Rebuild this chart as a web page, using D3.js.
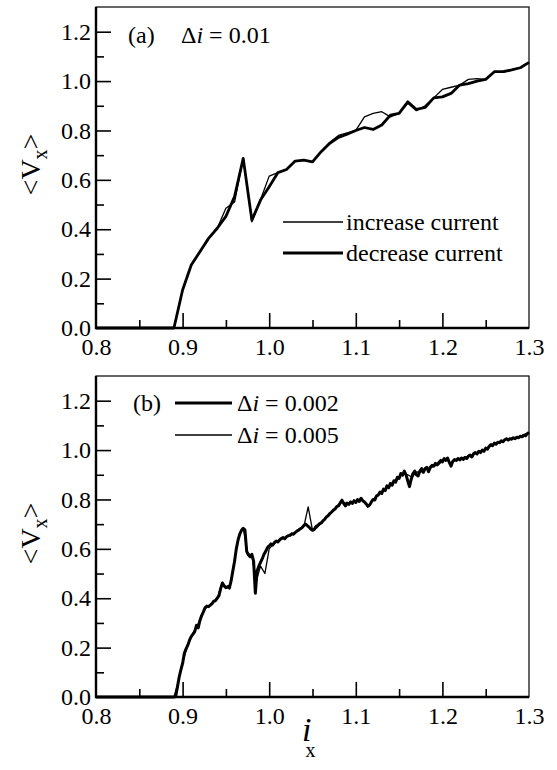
<!DOCTYPE html>
<html>
<head>
<meta charset="utf-8">
<script src="https://cdn.jsdelivr.net/npm/d3@7"></script>
<style>
  body { margin: 0; background: #fff; }
  svg text { font-family: "Liberation Serif", "Tinos", "DejaVu Serif", serif; fill: #000; }
</style>
</head>
<body>
<svg id="chart" width="557" height="770"></svg>
<script>
// ---- panel (a): delta i = 0.01, values read at 0.80, 0.81, ... 1.30
const aStart = 0.80, aStep = 0.01;
const aIncrease = [
  0, 0, 0, 0, 0, 0, 0, 0, 0, 0,
  0.154, 0.255, 0.309, 0.363, 0.404, 0.485, 0.510, 0.687, 0.430, 0.520,
  0.615, 0.629, 0.642, 0.676, 0.680, 0.673, 0.716, 0.752, 0.780, 0.790,
  0.800, 0.855, 0.869, 0.876, 0.855, 0.869, 0.910, 0.880, 0.900, 0.932,
  0.966, 0.975, 0.984, 1.007, 1.010, 1.007, 1.038, 1.035, 1.045, 1.054, 1.076
];
const aDecrease = [
  0, 0, 0, 0, 0, 0, 0, 0, 0, 0,
  0.154, 0.255, 0.309, 0.363, 0.404, 0.452, 0.532, 0.687, 0.437, 0.518,
  0.572, 0.629, 0.642, 0.676, 0.680, 0.673, 0.714, 0.748, 0.772, 0.785,
  0.800, 0.812, 0.804, 0.822, 0.862, 0.869, 0.916, 0.885, 0.893, 0.932,
  0.936, 0.950, 0.984, 0.990, 1.000, 1.007, 1.038, 1.038, 1.045, 1.054, 1.076
];

// ---- panel (b): two step sizes, both zero from 0.80 up to the start of each list
const zeroFrom = 0.80;
const bStart002 = 0.886, bStep002 = 0.002;
const b002 = [
  0, 0, 0, 0.002, 0.04, 0.08, 0.11, 0.136, 0.177, 0.195,
  0.21, 0.23, 0.245, 0.255, 0.265, 0.29, 0.28, 0.31, 0.33, 0.345,
  0.362, 0.368, 0.366, 0.372, 0.378, 0.388, 0.39, 0.40, 0.41, 0.44,
  0.462, 0.45, 0.443, 0.446, 0.441, 0.47, 0.51, 0.55, 0.60, 0.635,
  0.66, 0.675, 0.683, 0.677, 0.59, 0.575, 0.568, 0.578, 0.55, 0.42,
  0.51, 0.53, 0.545, 0.56, 0.578, 0.59, 0.605, 0.612, 0.62, 0.615,
  0.625, 0.632, 0.628, 0.636, 0.642, 0.646, 0.641, 0.649, 0.653, 0.655,
  0.661, 0.659, 0.666, 0.672, 0.676, 0.681, 0.686, 0.695, 0.70, 0.694,
  0.688, 0.68, 0.675, 0.679, 0.69, 0.694, 0.701, 0.705, 0.713, 0.719,
  0.729, 0.734, 0.743, 0.749, 0.756, 0.761, 0.771, 0.774, 0.786, 0.797,
  0.784, 0.774, 0.785, 0.78, 0.79, 0.784, 0.795, 0.788, 0.80, 0.792,
  0.805, 0.795, 0.79, 0.782, 0.772, 0.778, 0.79, 0.80, 0.798, 0.815,
  0.818, 0.83, 0.824, 0.842, 0.836, 0.855, 0.848, 0.865, 0.858, 0.876,
  0.87, 0.89, 0.885, 0.905, 0.898, 0.915, 0.90, 0.875, 0.852, 0.882,
  0.905, 0.915, 0.90, 0.895, 0.915, 0.925, 0.91, 0.925, 0.93, 0.912,
  0.93, 0.938, 0.935, 0.946, 0.94, 0.95, 0.958, 0.952, 0.966, 0.958,
  0.968, 0.95, 0.935, 0.955, 0.962, 0.958, 0.966, 0.96, 0.968, 0.962,
  0.97, 0.966, 0.975, 0.98, 0.972, 0.985, 0.99, 0.984, 0.995, 0.99,
  1.0, 0.995, 1.008, 1.004, 1.015, 1.022, 1.018, 1.028, 1.024, 1.032,
  1.03, 1.038, 1.034, 1.042, 1.046, 1.04, 1.046, 1.044, 1.05, 1.046,
  1.052, 1.05, 1.056, 1.054, 1.06, 1.058, 1.066, 1.072
];
const bStart005 = 0.885, bStep005 = 0.005;
const b005 = [
  0, 0, 0.06, 0.14, 0.20, 0.245, 0.278, 0.31, 0.355, 0.368,
  0.385, 0.40, 0.455, 0.445, 0.455, 0.555, 0.65, 0.685, 0.585, 0.57,
  0.47, 0.53, 0.50, 0.60, 0.62, 0.63, 0.64, 0.65, 0.655, 0.665,
  0.678, 0.69, 0.77, 0.675, 0.685, 0.705, 0.725, 0.74, 0.76, 0.78,
  0.79, 0.782, 0.786, 0.79, 0.798, 0.792, 0.772, 0.80, 0.818, 0.832,
  0.845, 0.858, 0.87, 0.892, 0.905, 0.90, 0.89, 0.912, 0.91, 0.922,
  0.925, 0.935, 0.94, 0.955, 0.962, 0.945, 0.96, 0.964, 0.97, 0.975,
  0.98, 0.99, 0.996, 1.005, 1.015, 1.025, 1.03, 1.036, 1.044, 1.046,
  1.05, 1.055, 1.064, 1.072
];

const xMajor = [0.8, 0.9, 1.0, 1.1, 1.2, 1.3];
const xMinor = [0.85, 0.95, 1.05, 1.15, 1.25];
const yMajor = [0.0, 0.2, 0.4, 0.6, 0.8, 1.0, 1.2];
const yMinor = [0.1, 0.3, 0.5, 0.7, 0.9, 1.1];

const serif = '"Liberation Serif", "Tinos", "DejaVu Serif", serif';
const fs = 24;

function toPoints(start, step, vals, lead) {
  const pts = vals.map((v, i) => ({ x: start + i * step, y: v }));
  if (lead !== undefined) pts.unshift({ x: lead, y: 0 });
  return pts;
}

const svg = d3.select("#chart").attr("font-family", serif);
const left = 96, right = 529;
const panels = [
  { top: 7, bottom: 328 },
  { top: 376, bottom: 697 }
];

const x = d3.scaleLinear().domain([0.8, 1.3]).range([left, right]);

function drawPanel(p, series) {
  const y = d3.scaleLinear().domain([0, 1.3]).range([p.bottom, p.top]);
  const g = svg.append("g");

  // inward ticks, major + minor
  const yAx = g.append("g").attr("transform", `translate(${left},0)`)
    .call(d3.axisLeft(y).tickValues(yMajor).tickSizeInner(-15).tickSizeOuter(0)
      .tickPadding(20).tickFormat(d3.format(".1f")));
  const yMin = g.append("g").attr("transform", `translate(${left},0)`)
    .call(d3.axisLeft(y).tickValues(yMinor).tickSizeInner(-8).tickSizeOuter(0).tickFormat(""));
  const xAx = g.append("g").attr("transform", `translate(0,${p.bottom})`)
    .call(d3.axisBottom(x).tickValues(xMajor).tickSizeInner(-15).tickSizeOuter(0)
      .tickPadding(24).tickFormat(d3.format(".1f")));
  const xMin = g.append("g").attr("transform", `translate(0,${p.bottom})`)
    .call(d3.axisBottom(x).tickValues(xMinor).tickSizeInner(-8).tickSizeOuter(0).tickFormat(""));

  [yAx, yMin, xAx, xMin].forEach(a => {
    a.attr("font-family", serif).attr("font-size", fs);
    a.select(".domain").remove();
    a.selectAll(".tick line").attr("stroke", "#000").attr("stroke-width", 1.6);
  });
  xAx.selectAll(".tick text").attr("y", 9).attr("dy", "0.75em");
  yAx.selectAll(".tick text").attr("x", -5);
  // no tick drawn on the corners
  xAx.selectAll(".tick line").filter(d => d === 0.8 || d === 1.3).remove();
  yAx.selectAll(".tick line").filter(d => d === 0).remove();

  // frame: heavier left/bottom
  g.append("rect").attr("x", left).attr("y", p.top)
    .attr("width", right - left).attr("height", p.bottom - p.top)
    .attr("fill", "none").attr("stroke", "#000").attr("stroke-width", 1.2);
  g.append("path")
    .attr("d", `M${left},${p.top}V${p.bottom}H${right}`)
    .attr("fill", "none").attr("stroke", "#000").attr("stroke-width", 2.4);

  const line = d3.line().x(d => x(d.x)).y(d => y(d.y));
  series.forEach(s => {
    g.append("path").datum(s.pts)
      .attr("d", line)
      .attr("fill", "none")
      .attr("stroke", "#000")
      .attr("stroke-width", s.w)
      .attr("stroke-linejoin", "round");
  });

  // y title  <V_x>
  const cy = (p.top + p.bottom) / 2 - 3;
  const t = g.append("text")
    .attr("transform", `translate(40,${cy}) rotate(-90)`)
    .attr("text-anchor", "middle")
    .attr("font-size", 28);
  t.append("tspan").text("<V");
  t.append("tspan").attr("font-size", 20).attr("dy", 7).text("x");
  t.append("tspan").attr("dy", -7).text(">");
  return y;
}

// panel (a)
drawPanel(panels[0], [
  { pts: toPoints(aStart, aStep, aIncrease), w: 1.3 },
  { pts: toPoints(aStart, aStep, aDecrease), w: 2.8 }
]);

// panel (b)
drawPanel(panels[1], [
  { pts: toPoints(bStart002, bStep002, b002, zeroFrom), w: 3 },
  { pts: toPoints(bStart005, bStep005, b005, zeroFrom), w: 1.3 }
]);

// ---- annotations
function deltaText(sel, value) {
  sel.append("tspan").text("\u0394");
  sel.append("tspan").attr("font-style", "italic").text("i");
  sel.append("tspan").text(" = " + value);
}

svg.append("text").attr("x", 128).attr("y", 43).attr("font-size", fs).text("(a)");
deltaText(svg.append("text").attr("x", 181).attr("y", 43).attr("font-size", fs), "0.01");

const legA = [
  { label: "increase current", w: 1.3, y: 222 },
  { label: "decrease current", w: 2.8, y: 253 }
];
legA.forEach(d => {
  svg.append("line").attr("x1", 283).attr("x2", 343).attr("y1", d.y).attr("y2", d.y)
    .attr("stroke", "#000").attr("stroke-width", d.w);
  svg.append("text").attr("x", 346).attr("y", d.y + 8).attr("font-size", fs).text(d.label);
});

svg.append("text").attr("x", 133).attr("y", 411).attr("font-size", fs).text("(b)");
const legB = [
  { value: "0.002", w: 3, y: 403 },
  { value: "0.005", w: 1.3, y: 435 }
];
legB.forEach(d => {
  svg.append("line").attr("x1", 175).attr("x2", 232).attr("y1", d.y).attr("y2", d.y)
    .attr("stroke", "#000").attr("stroke-width", d.w);
  deltaText(svg.append("text").attr("x", 237).attr("y", d.y + 8).attr("font-size", fs), d.value);
});

// x title  i_x
const xt = svg.append("text").attr("x", 302).attr("y", 741).attr("font-size", 34);
xt.append("tspan").attr("font-style", "italic").text("i");
xt.append("tspan").attr("font-size", 20).attr("dy", 16).attr("dx", -6).text("x");
</script>
</body>
</html>
